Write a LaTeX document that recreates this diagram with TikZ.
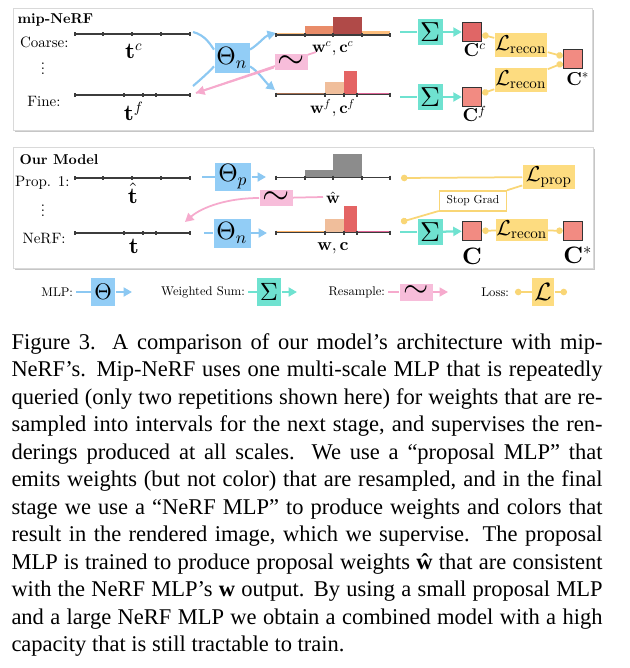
\documentclass[tikz,border=0pt]{standalone}
\usepackage{amsmath}
\usepackage{fontspec}
\usetikzlibrary{arrows.meta, positioning, calc}
\setmainfont{lmroman10-regular.otf}[BoldFont=lmroman10-bold.otf, ItalicFont=lmroman10-italic.otf]
\newfontfamily\capfont{Liberation Serif}
\DeclareFontShape{OT1}{cmr}{m}{n}{<->cmr10}{}
\DeclareFontShape{OT1}{cmr}{bx}{n}{<->cmbx10}{}
\DeclareFontShape{OML}{cmm}{m}{it}{<->cmmi10}{}
\DeclareFontShape{OMS}{cmsy}{m}{n}{<->cmsy10}{}
\definecolor{mlpblue}{RGB}{146,205,246}
\definecolor{mlpedge}{RGB}{140,200,242}
\definecolor{sumteal}{RGB}{111,226,208}
\definecolor{respink}{RGB}{247,189,218}
\definecolor{resedge}{RGB}{246,170,205}
\definecolor{lossyel}{RGB}{253,220,128}
\definecolor{lossedge}{RGB}{249,214,118}
\definecolor{cred}{RGB}{224,102,102}
\definecolor{csalmon}{RGB}{242,139,130}
\definecolor{hlorange}{RGB}{253,190,125}
\definecolor{horange}{RGB}{233,140,105}
\definecolor{hdark}{RGB}{176,74,72}
\definecolor{hpeach}{RGB}{240,190,155}
\definecolor{hred}{RGB}{228,100,100}
\definecolor{hbrown}{RGB}{165,110,80}
\definecolor{hpink}{RGB}{222,100,150}
\definecolor{hgray}{RGB}{140,140,140}
\definecolor{axisgray}{RGB}{60,60,60}
\newcommand{\rowdots}{\vbox{\baselineskip=2pt\lineskiplimit=-10pt\hbox{.}\hbox{.}\hbox{.}}}
\tikzset{
  mlpbox/.style={rectangle, fill=mlpblue, inner sep=0pt,
    minimum width=14pt, minimum height=12pt, font=\fontsize{10}{12}\selectfont},
  sumbox/.style={rectangle, fill=sumteal, inner sep=0pt,
    minimum width=10pt, minimum height=10.4pt, font=\fontsize{11}{12}\selectfont},
  resbox/.style={rectangle, fill=respink, inner sep=0pt,
    minimum width=13.2pt, minimum height=6.6pt, font=\fontsize{14}{14}\selectfont},
  lossbox/.style={rectangle, fill=lossyel, inner sep=0pt,
    minimum width=21pt, minimum height=9.6pt, font=\fontsize{8.6}{10}\selectfont},
  stopbox/.style={rectangle, draw=lossedge, fill=white, line width=0.6pt,
    minimum width=26.8pt, minimum height=8pt, inner sep=0pt, font=\fontsize{4.6}{5}\selectfont},
  redsq/.style={rectangle, draw=black!80, fill=cred, line width=0.4pt,
    minimum size=7.8pt, inner sep=0pt},
  salsq/.style={redsq, fill=csalmon},
  paneltitle/.style={font=\fontsize{5.7}{7}\selectfont\bfseries, inner sep=0pt},
  rowlabel/.style={font=\fontsize{6}{7}\selectfont, inner sep=0pt},
  legtext/.style={font=\fontsize{5.05}{6}\selectfont, inner sep=1pt},
  tlabel/.style={font=\fontsize{9}{10}\selectfont, inner sep=0pt},
  wlabel/.style={font=\fontsize{6.6}{8}\selectfont, inner sep=0pt},
  clabel/.style={font=\fontsize{7.5}{9}\selectfont, inner sep=0pt},
  clabelbig/.style={font=\fontsize{9.5}{11}\selectfont, inner sep=0pt},
  captext/.style={anchor=north west, inner sep=0pt, text width=236.4pt, align=justify,
    font=\capfont\fontsize{9}{11}\selectfont},
  axis/.style={draw=axisgray, line width=0.45pt},
  mlpline/.style={draw=mlpedge, line width=0.85pt},
  sumline/.style={draw=sumteal, line width=0.9pt},
  resline/.style={draw=resedge, line width=0.7pt},
  lossline/.style={draw=lossedge, line width=0.7pt},
  arrow/.style={-{Triangle[length=3.4pt,width=3.6pt]}},
  lossdot/.tip={Circle[length=2.6pt]}
}
\begin{document}
\begin{tikzpicture}[x=0.4pt, y=-0.4pt]
  \useasboundingbox[fill=white] (0,0) rectangle (629,668);

  % panel frames with shadow
  \fill[gray!45] (15,10) rectangle (594,132);
  \draw[gray!30, fill=white] (13,8) rectangle (592,130);
  \fill[gray!45] (15,149) rectangle (595,270);
  \draw[gray!30, fill=white] (13,147) rectangle (593,268);

  %%% mip-NeRF
  \node[paneltitle, anchor=west] (mipTitle) at (17,20) {mip-NeRF};
  \node[rowlabel, anchor=east] (coarseLbl) at (69,42) {Coarse:};
  \node[rowlabel] (dotsA) at (43,69) {\rowdots};
  \node[rowlabel, anchor=east] (fineLbl) at (61,101) {Fine:};

  \draw[axis] (75,34) -- (190,34);
  \foreach \x in {75,103,132,161,190} \draw[axis] (\x,32) -- (\x,36);
  \draw[axis] (75,95) -- (190,95);
  \foreach \x in {75,124,143,156,190} \draw[axis] (\x,93) -- (\x,97);
  \node[tlabel] (tc) at (134,51) {$\mathbf{t}^c$};
  \node[tlabel] (tf) at (134,111) {$\mathbf{t}^f$};

  \node[mlpbox] (thetaTop) at (232,58) {$\Theta_n$};
  \coordinate (coarseOut) at (193,32);
  \coordinate (fineIn) at (193,86);
  \coordinate (coarseHist) at (276,33);
  \coordinate (fineHist) at (275,90);
  \draw[mlpline] (coarseOut) .. controls (205,35) and (210,44) .. (thetaTop.155);
  \draw[mlpline] (thetaTop.205) .. controls (208,73) and (200,80) .. (fineIn);
  \draw[mlpline, arrow] (thetaTop.25) .. controls (259,44) and (265,36) .. (coarseHist);
  \draw[mlpline, arrow] (thetaTop.335) .. controls (259,72) and (265,82) .. (fineHist);

  % coarse weights
  \fill[hlorange] (276,32.5) rectangle (305,34);
  \fill[horange] (305,26) rectangle (333,34);
  \fill[hdark] (333,17) rectangle (362,34);
  \fill[hlorange] (362,31) rectangle (390,34);
  \draw[axis] (276,35) -- (390,35);
  \foreach \x in {276,305,333,362,390} \draw[axis] (\x,33) -- (\x,37);
  % fine weights
  \fill[hbrown] (276,93) rectangle (325,94);
  \fill[hpeach] (325,82) rectangle (344,94);
  \fill[hred] (344,71) rectangle (357,94);
  \fill[hpink] (357,93) rectangle (390,94);
  \draw[axis] (276,94.5) -- (390,94.5);
  \foreach \x in {276,325,344,357,390} \draw[axis] (\x,92.5) -- (\x,96.5);
  \node[wlabel] (wcTop) at (333,49) {$\mathbf{w}^c, \mathbf{c}^c$};
  \node[wlabel] (wfTop) at (333,108) {$\mathbf{w}^f, \mathbf{c}^f$};

  \coordinate (resTopIn) at (316,52);
  \coordinate (fineBack) at (196,93);
  \draw[resline] (resTopIn) -- (fineBack);
  \node[resbox] (resTop) at (291,62) {$\sim$};
  \draw[resline, arrow] (resTop) -- (fineBack);

  \coordinate (sumTopIn) at (400,32);
  \coordinate (sumMidIn) at (400,97);
  \node[sumbox] (sumTop) at (430,32) {$\Sigma$};
  \node[sumbox] (sumMid) at (430,97) {$\Sigma$};
  \node[redsq] (Cc) at (472,32) {};
  \node[salsq] (Cf) at (472,97) {};
  \node[clabel] (CcLbl) at (475,50) {$\mathbf{C}^c$};
  \node[clabel] (CfLbl) at (475,114) {$\mathbf{C}^f$};
  \draw[sumline] (sumTopIn) -- (sumTop);
  \draw[sumline, arrow] (sumTop) -- (Cc);
  \draw[sumline] (sumMidIn) -- (sumMid);
  \draw[sumline, arrow] (sumMid) -- (Cf);

  \node[lossbox] (lrTop) at (521,45) {$\mathcal{L}_\text{recon}$};
  \node[lossbox] (lrMid) at (521,80) {$\mathcal{L}_\text{recon}$};
  \node[salsq] (Cstar) at (573,59) {};
  \node[clabel] (CstarLbl) at (578,79) {$\mathbf{C}^*$};
  \draw[lossline, {lossdot}-] (Cc) -- (lrTop);
  \draw[lossline, {lossdot}-] (Cf) -- (lrMid);
  \draw[lossline, -{lossdot}] (lrTop) -- (Cstar);
  \draw[lossline, -{lossdot}] (lrMid) -- (Cstar);

  %%% Our Model
  \node[paneltitle, anchor=west] (ourTitle) at (19,160) {Our Model};
  \node[rowlabel, anchor=east] (propLbl) at (70,183) {Prop. 1:};
  \node[rowlabel] (dotsB) at (43,211) {\rowdots};
  \node[rowlabel, anchor=east] (nerfLbl) at (66,239) {NeRF:};

  \draw[axis] (75,178) -- (190,178);
  \foreach \x in {75,103,132,161,190} \draw[axis] (\x,176) -- (\x,180);
  \draw[axis] (75,233) -- (190,233);
  \foreach \x in {75,124,143,156,190} \draw[axis] (\x,231) -- (\x,235);
  \node[tlabel] (that) at (133,193) {$\hat{\mathbf{t}}$};
  \node[tlabel] (tt) at (134,246) {$\mathbf{t}$};

  \coordinate (propOut) at (202,177);
  \coordinate (nerfOut) at (204,233);
  \coordinate (propHist) at (266,177);
  \coordinate (nerfHist) at (267,233);
  \node[mlpbox, minimum width=14.4pt, minimum height=11.2pt] (thetaP) at (233,177) {$\Theta_p$};
  \node[mlpbox, minimum width=14.8pt, minimum height=11.6pt] (thetaN) at (232,233) {$\Theta_n$};
  \draw[mlpline] (propOut) -- (thetaP);
  \draw[mlpline, arrow] (thetaP) -- (propHist);
  \draw[mlpline] (nerfOut) -- (thetaN);
  \draw[mlpline, arrow] (thetaN) -- (nerfHist);

  % proposal weights
  \fill[hgray] (305,170) rectangle (333,177);
  \fill[hgray] (333,154) rectangle (362,177);
  \draw[axis] (276,177.5) -- (390,177.5);
  \foreach \x in {276,305,333,362,390} \draw[axis] (\x,175.5) -- (\x,179.5);
  % nerf weights
  \fill[hlorange!80!orange] (276,231) rectangle (325,232);
  \fill[hpeach] (325,219) rectangle (344,232);
  \fill[hred] (344,206) rectangle (357,232);
  \fill[hpink] (357,231) rectangle (390,232);
  \draw[axis] (276,232.5) -- (390,232.5);
  \foreach \x in {276,325,344,357,390} \draw[axis] (\x,230.5) -- (\x,234.5);
  \node[wlabel] (what) at (333,198) {$\hat{\mathbf{w}}$};
  \node[wlabel, font=\fontsize{7}{8}\selectfont] (wc) at (333,248) {$\mathbf{w}, \mathbf{c}$};

  \node[resbox] (resBot) at (276,198) {$\sim$};
  \coordinate (whatIn) at (323,197);
  \coordinate (nerfBack) at (185,222);
  \draw[resline] (whatIn) -- (resBot);
  \draw[resline, arrow] (resBot.west) .. controls (228,198) and (202,207) .. (nerfBack);

  \node[lossbox] (lprop) at (549,177) {$\mathcal{L}_\text{prop}$};
  \node[stopbox] (stop) at (473,201) {Stop Grad};
  \coordinate (propDot) at (401,178);
  \coordinate (nerfDot) at (401,222);
  \draw[lossline, {lossdot}-] (propDot) -- (lprop);
  \draw[lossline, {lossdot}-] (nerfDot) -- (stop);
  \draw[lossline] (stop) -- (lprop);

  \coordinate (sumBotIn) at (400,232);
  \node[sumbox] (sumBot) at (430,232) {$\Sigma$};
  \node[salsq] (Cfin) at (472,231) {};
  \node[clabelbig] (CfinLbl) at (472,256) {$\mathbf{C}$};
  \draw[sumline] (sumBotIn) -- (sumBot);
  \draw[sumline, arrow] (sumBot) -- (Cfin);
  \node[lossbox, minimum width=20.4pt, minimum height=8.8pt] (lrFin) at (522,230) {$\mathcal{L}_\text{recon}$};
  \node[salsq] (CstarB) at (573,231) {};
  \node[clabelbig] (CstarBLbl) at (578,255) {$\mathbf{C}^*$};
  \draw[lossline, {lossdot}-] (Cfin) -- (lrFin);
  \draw[lossline, -{lossdot}] (lrFin) -- (CstarB);

  %%% legend
  \node[legtext, anchor=east] (legMlp) at (76,292) {MLP:};
  \node[mlpbox, minimum width=9.6pt, minimum height=11.2pt, font=\fontsize{9}{10}\selectfont] (legTheta) at (103,292) {$\Theta$};
  \coordinate (legMlpOut) at (132,292);
  \draw[mlpline] (legMlp) -- (legTheta);
  \draw[mlpline, arrow] (legTheta) -- (legMlpOut);

  \node[legtext, anchor=east] (legSum) at (248,292) {Weighted Sum:};
  \node[sumbox, minimum width=9.6pt, minimum height=11.2pt, font=\fontsize{10}{11}\selectfont] (legSigma) at (269,292) {$\Sigma$};
  \coordinate (legSumOut) at (297,292);
  \draw[sumline] (legSum) -- (legSigma);
  \draw[sumline, arrow] (legSigma) -- (legSumOut);

  \node[legtext, anchor=east] (legRes) at (388,292) {Resample:};
  \node[resbox, minimum height=6.8pt, font=\fontsize{13}{13}\selectfont] (legSim) at (416,292) {$\sim$};
  \coordinate (legResOut) at (448,292);
  \draw[resline] (legRes) -- (legSim);
  \draw[resline, arrow] (legSim) -- (legResOut);

  \node[legtext, anchor=east] (legLoss) at (512,292) {Loss:};
  \node[lossbox, minimum width=8.8pt, minimum height=11.2pt, font=\fontsize{10}{11}\selectfont] (legL) at (543,292) {$\mathcal{L}$};
  \coordinate (legLossIn) at (515,292);
  \coordinate (legLossOut) at (567,292);
  \draw[lossline, {lossdot}-] (legLossIn) -- (legL);
  \draw[lossline, -{lossdot}] (legL) -- (legLossOut);

  %%% caption
  \node[captext] (caption) at (11,333) {Figure 3.  A comparison of our model’s architecture with mip-\linebreak
    NeRF’s.  Mip-NeRF uses one multi-scale MLP that is repeatedly\linebreak
    queried (only two repetitions shown here) for weights that are re-\linebreak
    sampled into intervals for the next stage, and supervises the ren-\linebreak
    derings produced at all scales.  We use a “proposal MLP” that\linebreak
    emits weights (but not color) that are resampled, and in the final\linebreak
    stage we use a “NeRF MLP” to produce weights and colors that\linebreak
    result in the rendered image, which we supervise.  The proposal\linebreak
    MLP is trained to produce proposal weights {\bfseries ŵ} that are consistent\linebreak
    with the NeRF MLP’s {\bfseries w} output. By using a small proposal MLP\linebreak
    and a large NeRF MLP we obtain a combined model with a high\linebreak
    capacity that is still tractable to train.};
\end{tikzpicture}
\end{document}
